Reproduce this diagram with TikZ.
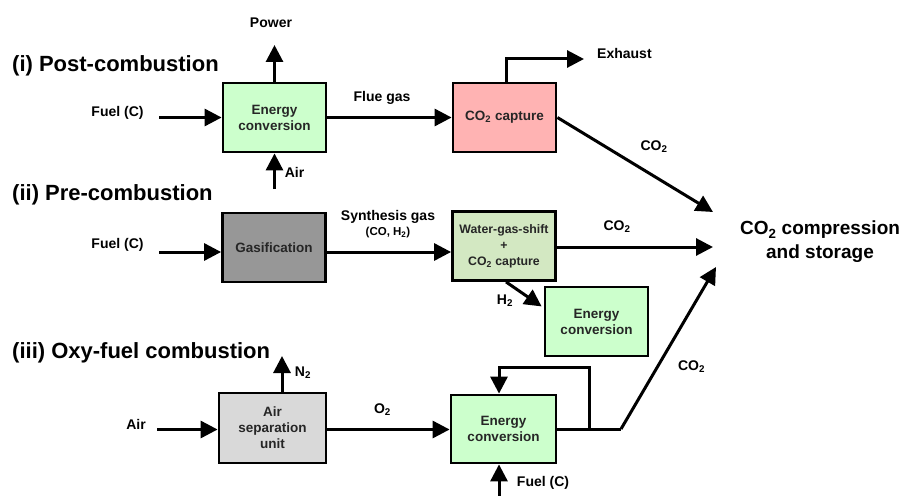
\documentclass[tikz,border=0pt]{standalone}
\usepackage{fontspec}
\setmainfont{Liberation Sans}
\usetikzlibrary{arrows.meta,calc}
\definecolor{egreen}{HTML}{CCFFCC}
\definecolor{cpink}{HTML}{FFB3B3}
\definecolor{gasgray}{HTML}{979797}
\definecolor{wgsgreen}{HTML}{D3E8C2}
\definecolor{asugray}{HTML}{D9D9D9}
\definecolor{boxtext}{HTML}{262626}
\tikzset{
  box/.style={draw=black, line width=2.8pt, minimum width=103pt, minimum height=69pt,
    inner sep=0pt, align=center, text=boxtext, font=\fontsize{13.5}{16}\selectfont\bfseries},
  lbl/.style={inner sep=0pt, font=\fontsize{14}{16}\selectfont\bfseries, align=center},
  ttl/.style={inner sep=0pt, anchor=west, font=\fontsize{22}{24}\selectfont\bfseries},
  arr/.style={line width=3pt, -{Triangle[length=17pt,width=17pt]}},
  ln/.style={line width=3pt}
}
\begin{document}
\begin{tikzpicture}[x=1pt,y=-1pt]
\useasboundingbox (0,0) rectangle (904,495);
\fill[white] (0,0) rectangle (904,495);

% ---------- (i) Post-combustion
\node[ttl] (t1) at (12,66) {(i) Post-combustion};
\node[box, fill=egreen] (ec1) at (274.5,117.5) {Energy\\conversion};
\node[box, fill=cpink] (cap) at (504.5,117.5) {CO\textsubscript{2} capture};
\coordinate (f1) at (159,117.5);
\coordinate (pw) at (274.5,45);
\coordinate (a1) at (274.5,189);
\coordinate (ex) at (584,59);
\node[lbl] (lpw) at (271,23) {Power};
\node[lbl] (lf1) at (117.5,113) {Fuel (C)};
\node[lbl] (la1) at (294.5,172) {Air};
\node[lbl] (lfg) at (382,98) {Flue gas};
\node[lbl, anchor=west] (lex) at (597,53) {Exhaust};
\node[lbl] (lc1) at (654,147) {CO\textsubscript{2}};
\draw[arr] (f1) -- (ec1.west);
\draw[arr] (ec1.north) -- (pw);
\draw[arr] (a1) -- (ec1.south);
\draw[arr] (ec1.east) -- (cap.west);
\draw[arr] ([xshift=1.5pt]cap.north) |- (ex);

% ---------- storage
\node[inner sep=0pt, align=center, font=\fontsize{19}{24}\selectfont\bfseries] (store) at (820,242) {CO\textsubscript{2} compression\\and storage};
\coordinate (tip1) at (713,212);
\coordinate (tip2) at (713,247);
\coordinate (tip3) at (716,267);
\draw[arr] (cap.east) -- (tip1);

% ---------- (ii) Pre-combustion
\node[ttl] (t2) at (12,195) {(ii) Pre-combustion};
\node[box, fill=gasgray] (gas) at (274,247.5) {Gasification};
\node[box, fill=wgsgreen, font=\fontsize{12.3}{16}\selectfont\bfseries] (wgs) at (504,246) {Water-gas-shift\\+\\CO\textsubscript{2} capture};
\node[box, fill=egreen] (ec2) at (596.5,321.5) {Energy\\conversion};
\coordinate (f2) at (159,252);
\node[lbl] (lf2) at (117.5,245) {Fuel (C)};
\node[lbl] (lsg) at (388,217) {Synthesis gas};
\node[lbl, font=\fontsize{11.5}{14}\selectfont\bfseries] (lsg2) at (388,233) {(CO, H\textsubscript{2})};
\node[lbl] (lc2) at (617,227) {CO\textsubscript{2}};
\node[lbl] (lh2) at (505,301) {H\textsubscript{2}};
\draw[arr] (f2) -- (f2 -| gas.west);
\draw[arr] (f2 -| gas.east) -- (f2 -| wgs.west);
\draw[arr] (tip2 -| wgs.east) -- (tip2);
\draw[arr] ([xshift=2pt]wgs.south) -- ($(ec2.north west)!0.29!(ec2.south west)+(-2,0)$);

% ---------- (iii) Oxy-fuel
\node[ttl] (t3) at (12,353) {(iii) Oxy-fuel combustion};
\node[box, fill=asugray, minimum width=107pt, minimum height=70pt] (asu) at (272.5,428) {Air\\separation\\unit};
\node[box, fill=egreen, minimum width=105pt, minimum height=68pt] (ec3) at (503.5,429) {Energy\\conversion};
\coordinate (a3) at (157,429.5);
\coordinate (n2) at (282,356);
\coordinate (j1) at (589,429);
\coordinate (k1) at (621,429);
\coordinate (r1) at (499,367);
\coordinate (fb) at (499,500);
\node[lbl] (la3) at (136,424) {Air};
\node[lbl] (ln2) at (303,373) {N\textsubscript{2}};
\node[lbl] (lo2) at (382.5,410) {O\textsubscript{2}};
\node[lbl] (lc3) at (691.5,367) {CO\textsubscript{2}};
\node[lbl] (lf3) at (543,483) {Fuel (C)};
\draw[arr] (a3) -- (a3 -| asu.west);
\draw[arr] (n2 |- asu.north) -- (n2);
\draw[arr] (a3 -| asu.east) -- (a3 -| ec3.west);
\draw[ln, line join=miter] (ec3.east |- j1) -- (j1) -- (k1);
\draw[arr, line join=miter] (k1) -- (tip3);
\draw[arr, line join=miter] (j1) |- (r1) -- (r1 |- ec3.north);
\draw[arr] (fb) -- (fb |- ec3.south);
\end{tikzpicture}
\end{document}
